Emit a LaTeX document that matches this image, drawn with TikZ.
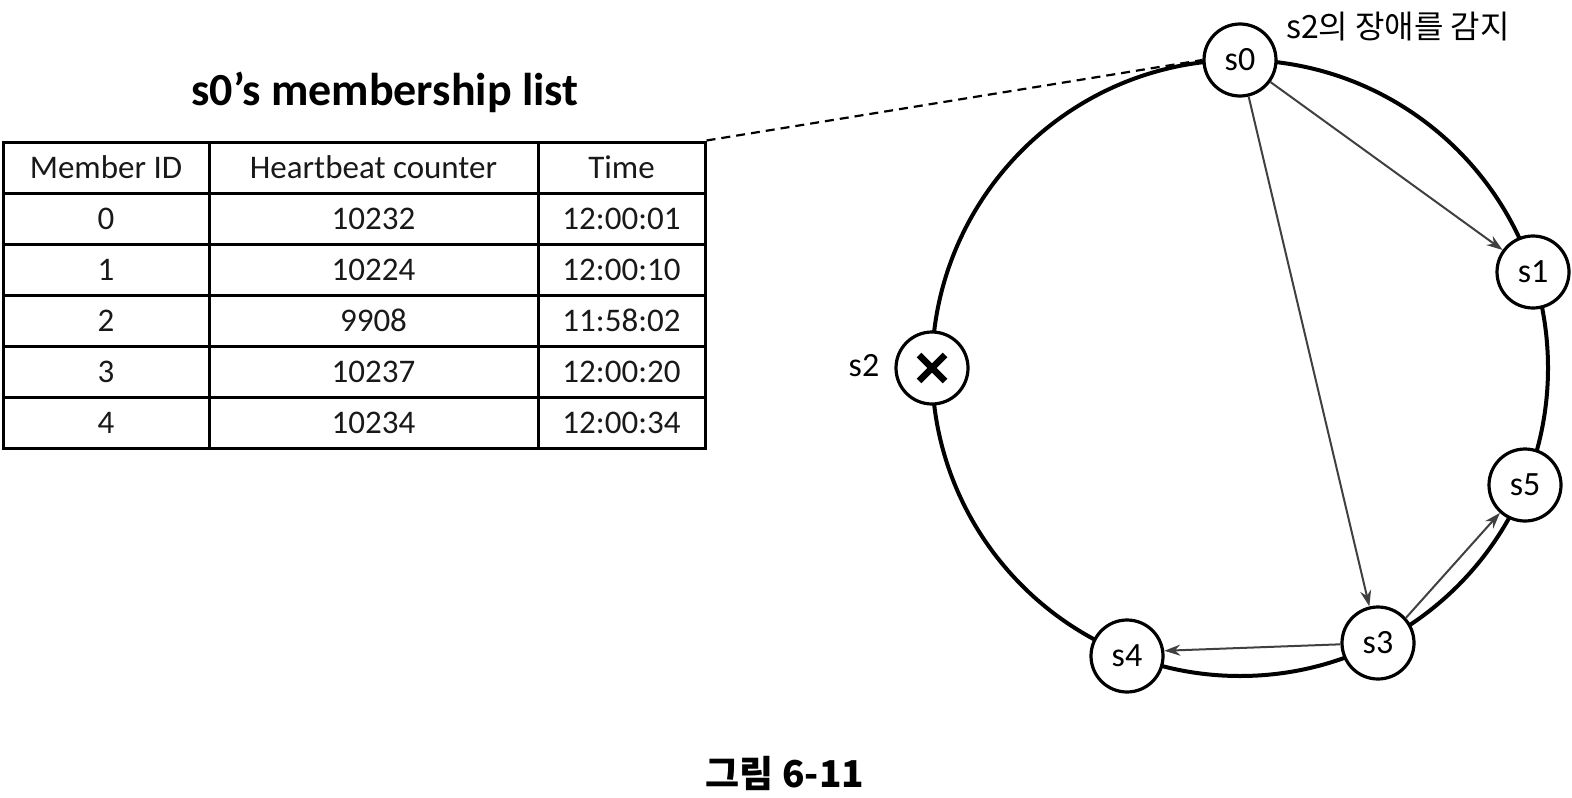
\documentclass[tikz,border=0pt]{standalone}
\usepackage{fontspec}
\setmainfont{Carlito}
\newfontfamily\kr{Noto Sans CJK KR}
\usetikzlibrary{arrows.meta,calc}
\begin{document}
\begin{tikzpicture}[x=1pt,y=-1pt,
  cell/.style={draw, line width=3pt, inner sep=0pt, font=\fontsize{33}{38}\selectfont, text=black!90},
  srv/.style={circle, draw, line width=3.2pt, fill=white, minimum size=72pt, inner sep=0pt, font=\fontsize{34}{40}\selectfont},
  ring/.style={line width=4pt},
  msg/.style={draw=black!75, line width=2pt, -{Stealth[length=16pt,width=11pt]}},
  link/.style={line width=2.2pt, dashed, dash pattern=on 9pt off 6pt}]
\useasboundingbox (0,0) rectangle (1572,798);
% title
\node[font=\fontsize{46}{52}\selectfont\bfseries] (title) at (385,92) {s0’s membership list};
% table
\foreach \r/\y/\a/\b/\c in {0/167.5/Member ID/Heartbeat counter/Time,
  1/218.5/0/10232/12:00:01, 2/269.5/1/10224/12:00:10, 3/320.5/2/9908/11:58:02,
  4/371.5/3/10237/12:00:20, 5/422.5/4/10234/12:00:34}{
  \node[cell, minimum width=206pt, minimum height=51pt] (c\r a) at (106,\y) {\a};
  \node[cell, minimum width=329pt, minimum height=51pt] (c\r b) at (373.5,\y) {\b};
  \node[cell, minimum width=167pt, minimum height=51pt] (c\r c) at (621.5,\y) {\c};
}
% ring
\draw[ring] (1240,368) circle[radius=308];
% servers
\node[srv] (s0) at (1240,60) {s0};
\node[srv] (s1) at (1533,272) {s1};
\node[srv] (s2) at (932,368) {};
\node[srv] (s5) at (1525,485) {s5};
\node[srv] (s3) at (1378,643) {s3};
\node[srv] (s4) at (1127,656) {s4};
\draw[line width=6.5pt] ($(s2)+(-13,-13)$) -- ($(s2)+(13,13)$);
\draw[line width=6.5pt] ($(s2)+(-13,13)$) -- ($(s2)+(13,-13)$);
\node[font=\fontsize{34}{40}\selectfont] (s2lab) at (864,366) {s2};
\node[font=\kr\fontsize{32}{38}\selectfont] (det) at (1398,27) {s2의 장애를 감지};
% dashed link
\draw[link] (c0c.north east) -- (s0.west);
% messages
\draw[msg] (s0) -- (s1);
\draw[msg] (s0) -- (s3);
\draw[msg] (s3.182) -- (s4.8);
\draw[msg] (s3.42) -- (s5.228);
% caption
\node[font=\kr\bfseries\fontsize{37}{43}\selectfont] (cap) at (785,773) {그림 6-11};
\end{tikzpicture}
\end{document}
